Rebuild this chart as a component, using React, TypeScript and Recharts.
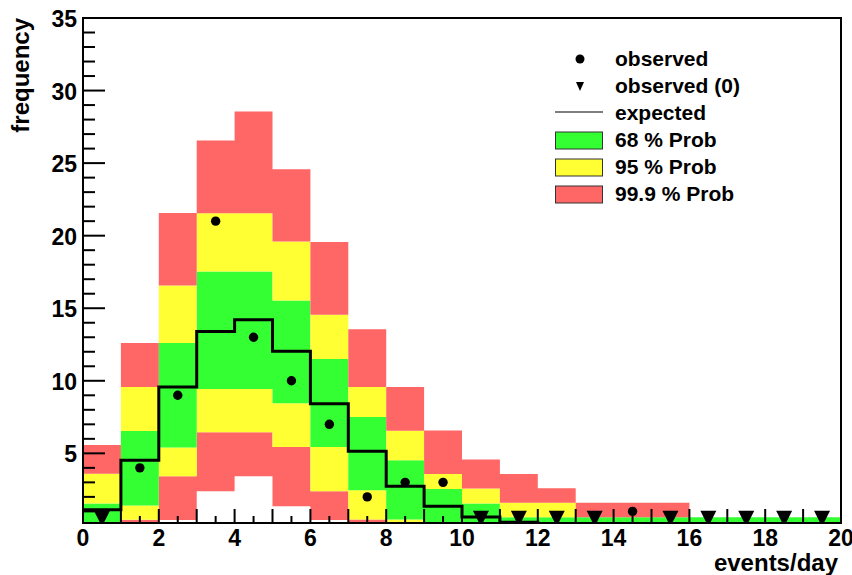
import React from 'react'
import { ComposedChart, Area, Line, Scatter, XAxis, YAxis, ReferenceArea } from 'recharts'

// bin lower edges, events/day
const bins = [0, 1, 2, 3, 4, 5, 6, 7, 8, 9, 10, 11, 12, 13, 14, 15, 16, 17, 18, 19]
const observed = [0, 4, 9, 21, 13, 10, 7, 2, 3, 3, 0, 0, 0, 0, 1, 0, 0, 0, 0, 0]
const expected = [1.12, 4.52, 9.57, 13.4, 14.2, 12.03, 8.42, 5.14, 2.73, 1.35, 0.62, 0.25, 0.12, 0.05, 0.05, 0.05, 0.05, 0.05, 0.05, 0.05]

// probability band edges
const lo999 = [0, 0, 0.4, 2.38, 3.42, 1.35, 0.4, 0, 0, 0, 0, 0, 0, 0, 0, 0, 0, 0, 0, 0]
const lo95 = [0, 0.43, 3.42, 6.45, 6.45, 5.44, 2.38, 0.44, 0.25, 0, 0, 0, 0, 0, 0, 0, 0, 0, 0, 0]
const lo68 = [0, 1.4, 5.41, 9.43, 9.43, 8.45, 5.44, 2.45, 0.44, 0, 0, 0, 0, 0, 0, 0, 0, 0, 0, 0]
const hi68 = [1.54, 6.54, 12.6, 17.53, 17.53, 15.54, 11.5, 7.5, 4.52, 2.54, 1.54, 0.6, 0.6, 0.6, 0.6, 0.6, 0.6, 0.6, 0.6, 0.6]
const hi95 = [3.6, 9.57, 16.56, 21.55, 21.55, 19.6, 14.55, 9.57, 6.55, 3.58, 2.57, 1.59, 1.59, 0.6, 0.6, 0.6, 0.6, 0.6, 0.6, 0.6]
const hi999 = [5.57, 12.6, 21.56, 26.56, 28.55, 24.57, 19.56, 13.56, 9.57, 6.58, 4.57, 3.58, 2.6, 1.59, 1.59, 1.59, 0.6, 0.6, 0.6, 0.6]

const xTicks = Array.from({ length: 41 }, (_, i) => i / 2)
const yTicks = Array.from({ length: 35 }, (_, i) => i + 1)

const RED = '#ff6666'
const YELLOW = '#ffff33'
const GREEN = '#33ff33'
const FONT = "'Liberation Sans', Arial, Helvetica, sans-serif"

// zero counts are drawn as a marker just above the axis
const ZERO_MARK = 0.5

const rows = bins.concat(20).map((x, k) => {
  const i = Math.min(k, bins.length - 1)
  return {
    x,
    base: lo999[i],
    redLo: lo95[i] - lo999[i],
    yellowLo: lo68[i] - lo95[i],
    green: hi68[i] - lo68[i],
    yellowHi: hi95[i] - hi68[i],
    redHi: hi999[i] - hi95[i],
    expected: expected[i],
  }
})

const obsPoints = bins.map((b, i) => ({ x: b + 0.5, y: observed[i] })).filter((p) => p.y > 0)
const zeroPoints = bins.map((b, i) => ({ x: b + 0.5, y: observed[i] })).filter((p) => p.y === 0).map((p) => ({ x: p.x, y: ZERO_MARK }))

const XTick = (props: any) => {
  const { x, y, payload } = props
  const v = payload.value
  const len = Number.isInteger(v) ? 14 : 7
  return (
    <g>
      <line x1={x} x2={x} y1={y} y2={y - len} stroke="#000" strokeWidth={2} />
      {v % 2 === 0 && (
        <text x={x} y={y + 23} textAnchor="middle" fontFamily={FONT} fontWeight="bold" fontSize={23} fill="#000">
          {v}
        </text>
      )}
    </g>
  )
}

const YTick = (props: any) => {
  const { x, y, payload } = props
  const v = payload.value
  const major = v % 5 === 0
  return (
    <g>
      <line x1={x} x2={x + (major ? 22 : 12)} y1={y} y2={y} stroke="#000" strokeWidth={2} />
      {major && (
        <text x={x - 6} y={y + 9} textAnchor="end" fontFamily={FONT} fontWeight="bold" fontSize={23} fill="#000">
          {v}
        </text>
      )}
    </g>
  )
}

const Dot = (props: any) => <circle cx={props.cx} cy={props.cy} r={4.7} fill="#000" />
const Tri = (props: any) => {
  const { cx, cy } = props
  return <polygon points={`${cx - 8},${cy - 8} ${cx + 8},${cy - 8} ${cx},${cy + 8}`} fill="#000" />
}

const legendText = { fontFamily: FONT, fontWeight: 'bold' as const, fontSize: 21, fill: '#000' }

export default function App() {
  return (
    <div style={{ position: 'absolute', left: 0, top: 0, width: 852, height: 575, background: '#fff' }}>
      <ComposedChart width={852} height={575} data={rows} margin={{ top: 18, right: 11, left: 8, bottom: 7 }}>
        <Area dataKey="base" stackId="b" type="stepAfter" fill="none" stroke="none" isAnimationActive={false} dot={false} activeDot={false} />
        <Area dataKey="redLo" stackId="b" type="stepAfter" fill={RED} fillOpacity={1} stroke="none" isAnimationActive={false} dot={false} activeDot={false} />
        <Area dataKey="yellowLo" stackId="b" type="stepAfter" fill={YELLOW} fillOpacity={1} stroke="none" isAnimationActive={false} dot={false} activeDot={false} />
        <Area dataKey="green" stackId="b" type="stepAfter" fill={GREEN} fillOpacity={1} stroke="none" isAnimationActive={false} dot={false} activeDot={false} />
        <Area dataKey="yellowHi" stackId="b" type="stepAfter" fill={YELLOW} fillOpacity={1} stroke="none" isAnimationActive={false} dot={false} activeDot={false} />
        <Area dataKey="redHi" stackId="b" type="stepAfter" fill={RED} fillOpacity={1} stroke="none" isAnimationActive={false} dot={false} activeDot={false} />
        <Line dataKey="expected" type="stepAfter" stroke="#000" strokeWidth={3} dot={false} activeDot={false} isAnimationActive={false} />
        <Scatter data={obsPoints} dataKey="y" shape={Dot} isAnimationActive={false} />
        <Scatter data={zeroPoints} dataKey="y" shape={Tri} isAnimationActive={false} />
        <XAxis dataKey="x" type="number" domain={[0, 20]} ticks={xTicks} interval={0} tick={XTick} tickSize={0} tickMargin={0} tickLine={false} axisLine={false} height={45} allowDataOverflow />
        <YAxis type="number" domain={[0.2, 35]} ticks={yTicks} interval={0} tick={YTick} tickSize={0} tickMargin={0} tickLine={false} axisLine={false} width={75} allowDataOverflow />
        <ReferenceArea x1={0} x2={20} y1={0.2} y2={35} fill="none" stroke="#000" strokeWidth={2} ifOverflow="visible" />
      </ComposedChart>
      <svg width={852} height={575} style={{ position: 'absolute', left: 0, top: 0, pointerEvents: 'none' }}>
        <text transform="translate(29,18) rotate(-90)" textAnchor="end" {...legendText} fontSize={24}>
          frequency
        </text>
        <text x={838} y={571} textAnchor="end" {...legendText} fontSize={24}>
          events/day
        </text>
        <circle cx={580} cy={59} r={4.5} fill="#000" />
        <text x={615} y={66} {...legendText}>observed</text>
        <polygon points="576,82 584,82 580,91" fill="#000" />
        <text x={615} y={93} {...legendText}>observed (0)</text>
        <line x1={555} x2={603} y1={112} y2={112} stroke="#000" strokeWidth={1.2} />
        <text x={615} y={120} {...legendText}>expected</text>
        <rect x={555.5} y={132} width={47} height={17} fill={GREEN} stroke="#333" strokeWidth={1} />
        <text x={615} y={147} {...legendText}>68 % Prob</text>
        <rect x={555.5} y={159} width={47} height={17} fill={YELLOW} stroke="#333" strokeWidth={1} />
        <text x={615} y={174} {...legendText}>95 % Prob</text>
        <rect x={555.5} y={186} width={47} height={17} fill={RED} stroke="#333" strokeWidth={1} />
        <text x={615} y={201} {...legendText}>99.9 % Prob</text>
      </svg>
    </div>
  )
}
